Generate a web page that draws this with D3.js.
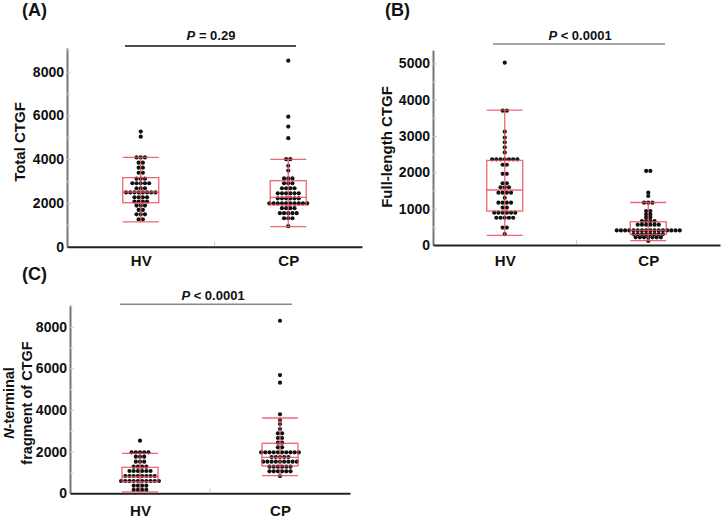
<!DOCTYPE html>
<html>
<head>
<meta charset="utf-8">
<script src="https://cdn.jsdelivr.net/npm/d3@7"></script>
<style>
  body { margin: 0; background: #fff; }
  svg text { font-family: "Liberation Sans", Arial, sans-serif; font-weight: bold; fill: #111; }
</style>
</head>
<body>
<div id="chart"></div>
<script>
var groups = ["HV", "CP"];

// (A) Total CTGF, one value per subject
var totalHV = [5260, 5030, 4080, 4080, 4080, 3840, 3840, 3610, 3610, 3380, 3380,
  3110, 3110, 3110, 2900, 2900, 2900, 2900, 2900, 2670, 2670, 2670,
  2480, 2480, 2480, 2480, 2480, 2480, 2480, 2480, 2260, 2260, 2260, 2260,
  2060, 2060, 2060, 2060, 1880, 1880, 1880, 1680, 1680, 1480, 1480, 1480, 1250, 1250];
var totalCP = [8500, 5940, 5490, 4960, 4000, 4000, 3700, 3480, 3120, 3120, 3120,
  2900, 2900, 2900, 2670, 2670, 2670, 2670, 2440, 2440, 2440, 2440, 2440, 2440,
  2210, 2210, 2210, 2210, 2210, 2210, 1980, 1980, 1980, 1980, 1980, 1980, 1980, 1980, 1980, 1980,
  1760, 1760, 1760, 1760, 1530, 1530, 1530, 1530, 1530, 1300, 1300, 1300, 940];
// box: low whisker, q1, median, q3, high whisker
var totalBoxHV = [1130, 2010, 2500, 3155, 4085];
var totalBoxCP = [915, 1906, 2258, 3017, 3995];

// (B) Full-length CTGF
var fullHV = [5020, 3700, 3700, 3120, 2960, 2830, 2690, 2550,
  2360, 2360, 2360, 2360, 2360, 2360, 2360, 2210, 2210, 1960, 1960, 1700, 1700,
  1590, 1590, 1590, 1440, 1440, 1440, 1440, 1300, 1165, 1165, 1165, 1165, 1030, 1030,
  890, 890, 890, 890, 890, 890, 750, 750, 750, 750, 750, 480, 480, 300];
var fullCP = [2040, 2040, 1440, 1350, 1165, 1165, 1165, 935, 935, 845, 845, 760, 760,
  660, 660, 660, 660, 560, 560, 560, 560, 560, 560,
  400, 400, 400, 400, 400, 400, 400, 400, 400, 400, 400, 400, 400, 400, 400, 400,
  300, 300, 300, 300, 300, 300, 300, 300, 210, 210, 210, 210, 210, 210, 210, 110];
var fullBoxHV = [267, 935, 1514, 2330, 3715];
var fullBoxCP = [120, 290, 400, 640, 1170];

// (C) N-terminal fragment of CTGF
var nTermHV = [2525, 1965, 1965, 1965, 1965, 1965, 1757, 1757, 1757, 1517, 1517, 1517,
  1277, 1277, 1277, 1277, 1070, 1070, 1070, 1070, 1070, 1070,
  830, 830, 830, 830, 830, 830, 830, 830, 590, 590, 590, 590, 590, 590, 590, 590, 590, 590,
  365, 365, 365, 365, 160, 160, 160, 160];
var nTermCP = [8285, 5678, 5309, 3792, 3518, 3326, 3086, 2880, 2880, 2654, 2654, 2429, 2429,
  2208, 2208, 1968, 1968, 1968, 1968, 1968, 1968, 1968, 1968, 1968, 1968,
  1742, 1742, 1742, 1742, 1742, 1517, 1517, 1517, 1517, 1517, 1517, 1517, 1517, 1517,
  1277, 1277, 1277, 1277, 1277, 1277, 1056, 1056, 1056, 1056, 1056, 1056, 830];
var nTermBoxHV = [70, 557, 797, 1248, 1920];
var nTermBoxCP = [845, 1310, 1728, 2400, 3614];

var ticksAC = [0, 2000, 4000, 6000, 8000];
var minorAC = [1000, 3000, 5000, 7000, 9000];
var ticksB = [0, 1000, 2000, 3000, 4000, 5000];
var minorB = [500, 1500, 2500, 3500, 4500];

var dotR = 2.1;
var dotStep = 4.2;
var boxW = 36;
var boxColor = "#e84c5a";

var svg = d3.select("#chart")
  .append("svg")
  .attr("width", 724)
  .attr("height", 519);

// spread equal values side by side, centred on the group
function swarm(values) {
  var counts = d3.rollup(values, v => v.length, d => d);
  var seen = new Map();
  return values.map(function(v) {
    var n = counts.get(v);
    var i = seen.get(v) || 0;
    seen.set(v, i + 1);
    return { value: v, offset: (i - (n - 1) / 2) * dotStep };
  });
}

function drawPanel(p) {
  var g = svg.append("g");

  var x = d3.scalePoint().domain(groups).range([p.left, p.right]).padding(0.5);
  var y = d3.scaleLinear().domain([0, p.yMax]).range([p.bottom, p.top]);

  // y axis, ticks point inwards
  var yAxis = g.append("g")
    .attr("transform", `translate(${p.left},0)`)
    .call(d3.axisLeft(y).tickValues(p.ticks).tickFormat(d3.format("d"))
      .tickSize(-4).tickSizeOuter(0).tickPadding(3));
  yAxis.select(".domain").attr("stroke", "#777").attr("stroke-width", 2);
  yAxis.selectAll(".tick line").attr("stroke", "#c8c8c8");
  yAxis.selectAll(".tick text").attr("font-size", 14);

  g.append("g")
    .attr("transform", `translate(${p.left},0)`)
    .call(d3.axisLeft(y).tickValues(p.minor).tickSize(-3).tickSizeOuter(0).tickFormat(""))
    .call(s => s.select(".domain").remove())
    .selectAll(".tick line").attr("stroke", "#d4d4d4");

  // x axis
  var xAxis = g.append("g")
    .attr("transform", `translate(0,${p.bottom})`)
    .call(d3.axisBottom(x).tickSize(0).tickSizeOuter(0).tickPadding(p.catPad));
  xAxis.select(".domain").attr("stroke", "#222").attr("stroke-width", 2);
  xAxis.selectAll(".tick text").attr("font-size", 15);

  g.append("line")
    .attr("x1", (p.left + p.right) / 2).attr("x2", (p.left + p.right) / 2)
    .attr("y1", p.bottom - 1).attr("y2", p.bottom - 5)
    .attr("stroke", "#ccc");

  // dots
  [[groups[0], p.hv], [groups[1], p.cp]].forEach(function(pair) {
    g.append("g").selectAll("circle")
      .data(swarm(pair[1]))
      .enter()
      .append("circle")
      .attr("cx", d => x(pair[0]) + d.offset)
      .attr("cy", d => y(d.value))
      .attr("r", dotR)
      .attr("fill", "#111");
  });

  // box and whiskers on top
  [[groups[0], p.boxHV], [groups[1], p.boxCP]].forEach(function(pair) {
    var cx = x(pair[0]);
    var b = pair[1];
    var bg = g.append("g")
      .attr("stroke", boxColor)
      .attr("stroke-width", 1.3)
      .attr("stroke-opacity", 0.85)
      .attr("fill", "none");
    bg.append("line").attr("x1", cx).attr("x2", cx).attr("y1", y(b[0])).attr("y2", y(b[4]));
    bg.append("rect")
      .attr("x", cx - boxW / 2).attr("width", boxW)
      .attr("y", y(b[3])).attr("height", y(b[1]) - y(b[3]));
    [b[0], b[2], b[4]].forEach(function(v) {
      bg.append("line")
        .attr("x1", cx - boxW / 2).attr("x2", cx + boxW / 2)
        .attr("y1", y(v)).attr("y2", y(v));
    });
  });

  // y title, rotated
  p.title.forEach(function(t) {
    var txt = g.append("text")
      .attr("transform", `translate(${t.x},${p.titleY}) rotate(-90)`)
      .attr("text-anchor", "middle")
      .attr("font-size", t.size);
    if (t.italic) txt.append("tspan").attr("font-style", "italic").text(t.italic);
    txt.append("tspan").text(t.text);
  });

  // panel letter
  g.append("text")
    .attr("x", p.labelX).attr("y", p.labelY)
    .attr("font-size", 18)
    .text(p.label);

  // significance bracket
  g.append("line")
    .attr("x1", p.bracket[0]).attr("x2", p.bracket[1])
    .attr("y1", p.bracket[2]).attr("y2", p.bracket[2])
    .attr("stroke", p.bracketColor).attr("stroke-width", 1.5);
  var pt = g.append("text")
    .attr("x", p.pX).attr("y", p.pY)
    .attr("text-anchor", "middle")
    .attr("font-size", 13);
  pt.append("tspan").attr("font-style", "italic").text("P");
  pt.append("tspan").text(" " + p.pText);
}

drawPanel({
  left: 67, right: 362, top: 48, bottom: 246.7, yMax: 9080,
  ticks: ticksAC, minor: minorAC,
  hv: totalHV, cp: totalCP, boxHV: totalBoxHV, boxCP: totalBoxCP,
  title: [{ text: "Total CTGF", x: 25, size: 15 }], titleY: 142,
  label: "(A)", labelX: 22, labelY: 16,
  pText: "= 0.29", pX: 211, pY: 40, bracket: [125, 296, 46], bracketColor: "#111",
  catPad: 9
});

drawPanel({
  left: 433, right: 720, top: 50, bottom: 245, yMax: 5370,
  ticks: ticksB, minor: minorB,
  hv: fullHV, cp: fullCP, boxHV: fullBoxHV, boxCP: fullBoxCP,
  title: [{ text: "Full-length CTGF", x: 392, size: 15 }], titleY: 147,
  label: "(B)", labelX: 385, labelY: 16,
  pText: "< 0.0001", pX: 580, pY: 40, bracket: [493, 665, 44], bracketColor: "#888",
  catPad: 10
});

drawPanel({
  left: 70, right: 350, top: 305, bottom: 493.3, yMax: 9040,
  ticks: ticksAC, minor: minorAC,
  hv: nTermHV, cp: nTermCP, boxHV: nTermBoxHV, boxCP: nTermBoxCP,
  title: [
    { italic: "N", text: "-terminal", x: 14, size: 14.5 },
    { text: "fragment of CTGF", x: 32, size: 14.5 }
  ], titleY: 403,
  label: "(C)", labelX: 22, labelY: 280,
  pText: "< 0.0001", pX: 213, pY: 300, bracket: [120, 292, 304.3], bracketColor: "#888",
  catPad: 12
});
</script>
</body>
</html>
